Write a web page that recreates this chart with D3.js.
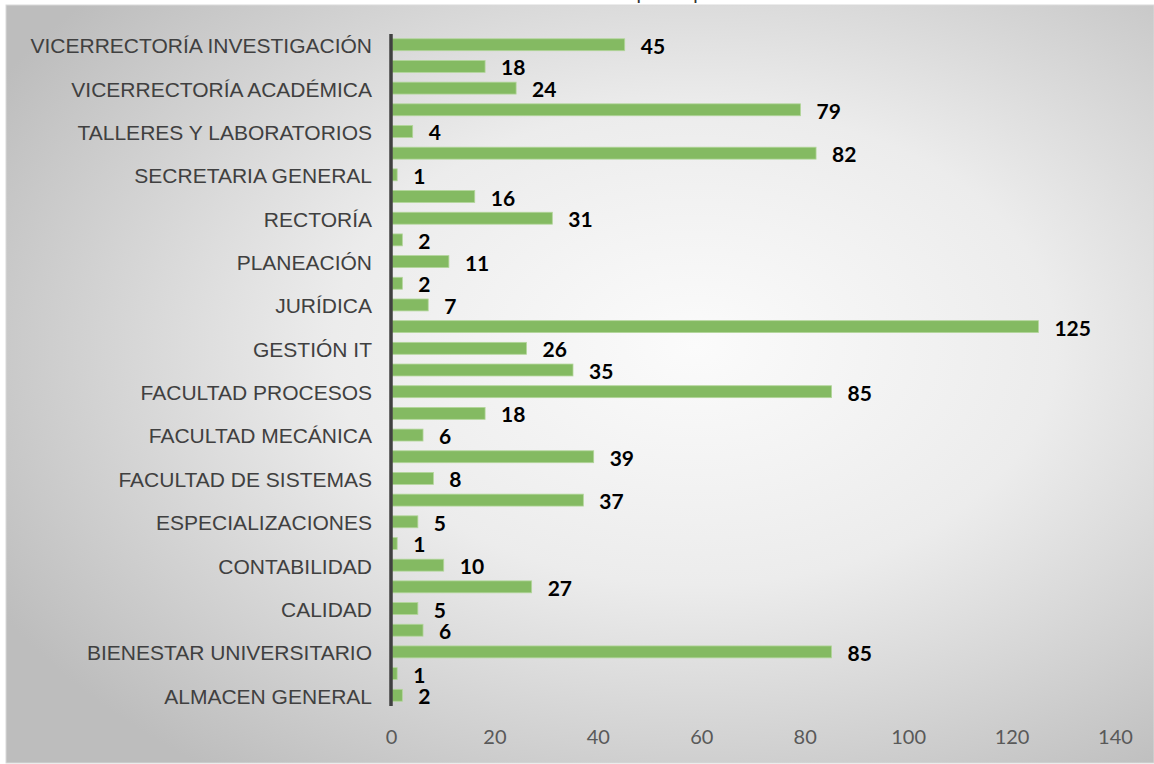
<!DOCTYPE html>
<html>
<head>
<meta charset="utf-8">
<script src="https://cdn.jsdelivr.net/npm/d3@7"></script>
<style>
  html, body { margin: 0; padding: 0; background: #fff; }
  svg { display: block; }
</style>
</head>
<body>
<div id="chart"></div>
<script>
// every other bar carries a visible label in the original, the rest are hidden
var categories = [
	"VICERRECTORÍA INVESTIGACIÓN", "",
	"VICERRECTORÍA ACADÉMICA", "",
	"TALLERES Y LABORATORIOS", "",
	"SECRETARIA GENERAL", "",
	"RECTORÍA", "",
	"PLANEACIÓN", "",
	"JURÍDICA", "",
	"GESTIÓN IT", "",
	"FACULTAD PROCESOS", "",
	"FACULTAD MECÁNICA", "",
	"FACULTAD DE SISTEMAS", "",
	"ESPECIALIZACIONES", "",
	"CONTABILIDAD", "",
	"CALIDAD", "",
	"BIENESTAR UNIVERSITARIO", "",
	"ALMACEN GENERAL"
];
var values = [45, 18, 24, 79, 4, 82, 1, 16, 31, 2, 11, 2, 7, 125, 26, 35, 85, 18, 6, 39, 8, 37, 5, 1, 10, 27, 5, 6, 85, 1, 2];
var xTicks = [0, 20, 40, 60, 80, 100, 120, 140];
var title = "Gráfica 1. Total de citaciones por dependencia";

var W = 1154, H = 764;

var svg = d3.select("#chart").append("svg")
	.attr("width", W)
	.attr("height", H);

// title sits mostly above the visible area, only its bottom shows
svg.append("text")
	.attr("x", 580)
	.attr("y", -1)
	.attr("text-anchor", "middle")
	.style("font-family", "'Liberation Sans', Arial, sans-serif")
	.style("font-size", "20px")
	.style("fill", "#333")
	.text(title);

var defs = svg.append("defs");
var grad = defs.append("radialGradient")
	.attr("id", "bg")
	.attr("cx", "60%").attr("cy", "45%").attr("r", "70%");
grad.append("stop").attr("offset", "0%").attr("stop-color", "#fbfbfb");
grad.append("stop").attr("offset", "45%").attr("stop-color", "#ececec");
grad.append("stop").attr("offset", "100%").attr("stop-color", "#bdbdbd");

svg.append("rect")
	.attr("x", 6).attr("y", 5)
	.attr("width", W - 6).attr("height", H - 6)
	.attr("fill", "url(#bg)")
	.attr("stroke", "#d9d9d9")
	.attr("stroke-width", 1);

var x = d3.scaleLinear().domain([0, 140]).range([391, 1115]);
var y = d3.scaleBand()
	.domain(d3.range(values.length))
	.range([34, 706])
	.paddingInner(0.45)
	.paddingOuter(0.22);

// bars
svg.append("g").selectAll("rect")
	.data(values)
	.enter().append("rect")
	.attr("x", x(0) + 1)
	.attr("y", function(d, i) { return y(i); })
	.attr("width", function(d) { return x(d) - x(0); })
	.attr("height", y.bandwidth())
	.attr("fill", "#84ba62")
	.attr("stroke", "#b3d69b")
	.attr("stroke-width", 0.8);

// value labels
svg.append("g").selectAll("text")
	.data(values)
	.enter().append("text")
	.attr("x", function(d) { return x(d) + 17; })
	.attr("y", function(d, i) { return y(i) + y.bandwidth() / 2 + 9; })
	.style("font-family", "Lato, 'Open Sans', sans-serif")
	.style("font-weight", "bold")
	.style("font-size", "21px")
	.style("fill", "#000")
	.text(function(d) { return d; });

// category axis
var yAxis = svg.append("g")
	.attr("transform", "translate(" + x(0) + ",0)")
	.call(d3.axisLeft(y)
		.tickValues(d3.range(values.length).filter(function(i) { return categories[i] !== ""; }))
		.tickFormat(function(i) { return categories[i]; })
		.tickSize(0)
		.tickPadding(19));
yAxis.select(".domain")
	.attr("stroke", "#404040")
	.attr("stroke-width", 3.5)
	.attr("d", "M0,34V706");
yAxis.selectAll("text")
	.attr("dy", "0.4em")
	.style("font-family", "'Liberation Sans', Arial, sans-serif")
	.style("font-size", "21px")
	.style("fill", "#404040");

// value axis, labels only
var xAxis = svg.append("g")
	.attr("transform", "translate(0,726)")
	.call(d3.axisBottom(x).tickValues(xTicks).tickSize(0).tickPadding(0));
xAxis.select(".domain").remove();
xAxis.selectAll("text")
	.attr("dy", "0.9em")
	.style("font-family", "Lato, sans-serif")
	.style("font-size", "20px")
	.style("fill", "#595959");
</script>
</body>
</html>
